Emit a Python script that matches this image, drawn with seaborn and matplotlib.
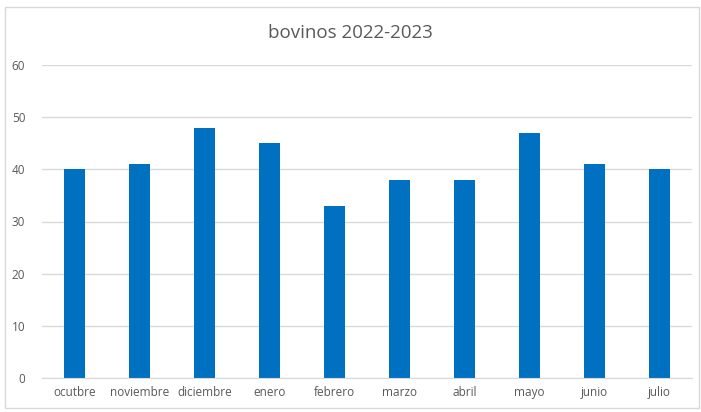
import matplotlib
matplotlib.use("Agg")
import matplotlib.pyplot as plt
import seaborn as sns
import pandas as pd
from matplotlib.patches import Rectangle

meses = ["ocutbre", "noviembre", "diciembre", "enero", "febrero",
         "marzo", "abril", "mayo", "junio", "julio"]
bovinos = [40, 41, 48, 45, 33, 38, 38, 47, 41, 40]

df = pd.DataFrame({"mes": meses, "bovinos": bovinos})

sns.set_style("white")
plt.rcParams["font.family"] = ["Open Sans", "DejaVu Sans"]

fig = plt.figure(figsize=(7.01, 4.12), dpi=100)
ax = fig.add_axes([42 / 701, 1 - 378 / 412, 650 / 701, 313 / 412])

sns.barplot(data=df, x="mes", y="bovinos", color="#0070C0", saturation=1,
            width=0.31, linewidth=0, ax=ax)

ax.set_ylim(0, 60)
ax.set_yticks(range(0, 61, 10))
ax.set_xlim(-0.5, len(meses) - 0.5)
ax.yaxis.grid(True, color="#D9D9D9", linewidth=1)
ax.set_axisbelow(True)
for s in ["top", "right", "left"]:
    ax.spines[s].set_visible(False)
ax.spines["bottom"].set_color("#D9D9D9")
ax.tick_params(axis="both", length=0, labelsize=8.5, colors="#595959")
ax.tick_params(axis="x", pad=6)
ax.tick_params(axis="y", pad=12)
ax.set_xlabel("")
ax.set_ylabel("")

fig.text(0.5, 1 - 33 / 412, "bovinos 2022-2023", ha="center", va="center",
         fontsize=13.5, color="#595959")

fig.patches.append(Rectangle((5 / 701, 4 / 412), 694 / 701, 401 / 412,
                             transform=fig.transFigure, fill=False,
                             edgecolor="#D9D9D9", linewidth=1))

fig.savefig("out.png", dpi=100)
